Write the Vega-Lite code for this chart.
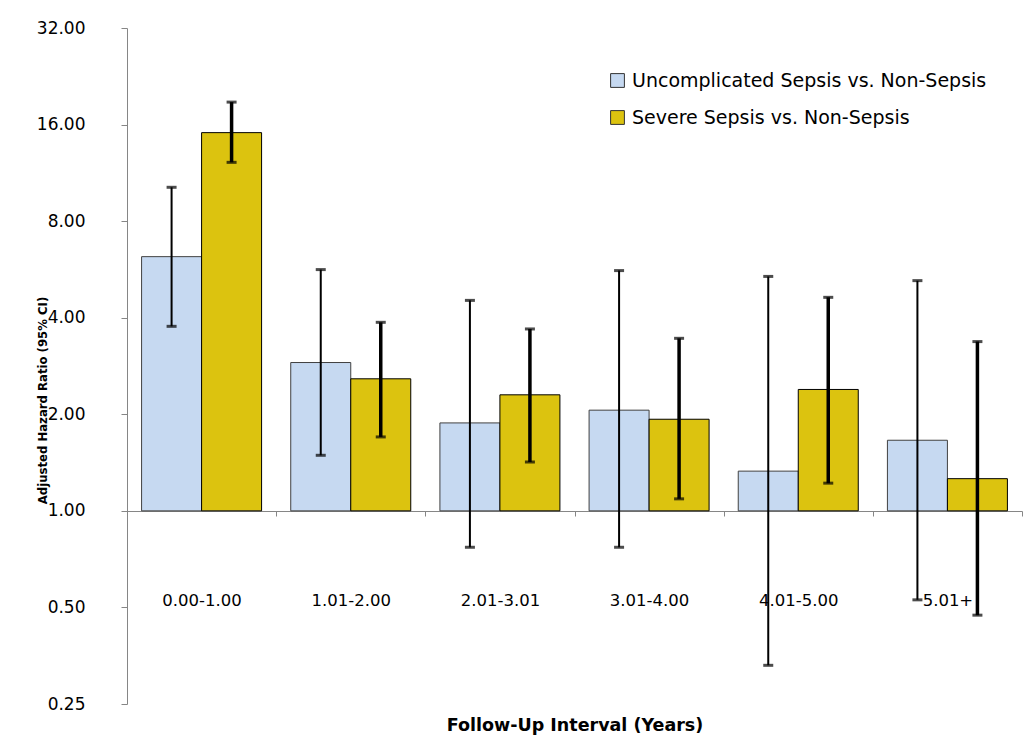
{
  "$schema": "https://vega.github.io/schema/vega-lite/v6.json",
  "width": 895,
  "height": 676,
  "autosize": {"type": "none"},
  "padding": {"left": 127, "top": 28, "right": 8, "bottom": 47},
  "background": "white",
  "config": {"view": {"stroke": null}},
  "data": {"values": [
    {"interval": "0.00-1.00", "series": "Uncomplicated Sepsis vs. Non-Sepsis", "hr": 6.2, "lo": 3.76, "hi": 10.2},
    {"interval": "0.00-1.00", "series": "Severe Sepsis vs. Non-Sepsis", "hr": 15.1, "lo": 12.2, "hi": 18.8},
    {"interval": "1.01-2.00", "series": "Uncomplicated Sepsis vs. Non-Sepsis", "hr": 2.9, "lo": 1.49, "hi": 5.65},
    {"interval": "1.01-2.00", "series": "Severe Sepsis vs. Non-Sepsis", "hr": 2.58, "lo": 1.7, "hi": 3.87},
    {"interval": "2.01-3.01", "series": "Uncomplicated Sepsis vs. Non-Sepsis", "hr": 1.88, "lo": 0.77, "hi": 4.53},
    {"interval": "2.01-3.01", "series": "Severe Sepsis vs. Non-Sepsis", "hr": 2.3, "lo": 1.42, "hi": 3.69},
    {"interval": "3.01-4.00", "series": "Uncomplicated Sepsis vs. Non-Sepsis", "hr": 2.06, "lo": 0.77, "hi": 5.61},
    {"interval": "3.01-4.00", "series": "Severe Sepsis vs. Non-Sepsis", "hr": 1.93, "lo": 1.09, "hi": 3.45},
    {"interval": "4.01-5.00", "series": "Uncomplicated Sepsis vs. Non-Sepsis", "hr": 1.33, "lo": 0.33, "hi": 5.38},
    {"interval": "4.01-5.00", "series": "Severe Sepsis vs. Non-Sepsis", "hr": 2.39, "lo": 1.22, "hi": 4.63},
    {"interval": "5.01+", "series": "Uncomplicated Sepsis vs. Non-Sepsis", "hr": 1.66, "lo": 0.528, "hi": 5.22},
    {"interval": "5.01+", "series": "Severe Sepsis vs. Non-Sepsis", "hr": 1.26, "lo": 0.473, "hi": 3.37}
  ]},
  "encoding": {
    "x": {
      "field": "interval", "type": "nominal", "sort": null,
      "scale": {"paddingInner": 0, "paddingOuter": 0},
      "axis": {
        "orient": "bottom", "offset": -193, "labelAngle": 0,
        "domainColor": "#868686", "tickColor": "#868686", "tickSize": 5, "tickBand": "extent",
        "labelFont": "DejaVu Sans", "labelFontSize": 16.5, "labelColor": "black", "labelPadding": 76,
        "title": "Follow-Up Interval (Years)", "titleFont": "DejaVu Sans", "titleFontSize": 17.5,
        "titleFontWeight": "bold", "titleColor": "black", "titlePadding": 108
      }
    },
    "xOffset": {
      "field": "series", "type": "nominal", "sort": ["Uncomplicated Sepsis vs. Non-Sepsis", "Severe Sepsis vs. Non-Sepsis"],
      "scale": {"paddingInner": 0, "paddingOuter": 0.243}
    }
  },
  "layer": [
    {
      "mark": {"type": "bar", "strokeWidth": 1},
      "encoding": {
        "y": {
          "field": "hr", "type": "quantitative",
          "scale": {"type": "log", "base": 2, "domain": [0.25, 32], "nice": false},
          "axis": {
            "values": [0.25, 0.5, 1, 2, 4, 8, 16, 32], "format": ".2f", "grid": false,
            "domainColor": "#868686", "tickColor": "#868686", "tickSize": 6,
            "labelFont": "DejaVu Sans", "labelFontSize": 17, "labelColor": "black", "labelPadding": 36,
            "title": "Adjusted Hazard Ratio (95% CI)", "titleFont": "'DejaVu Sans Condensed', 'Liberation Sans', sans-serif",
            "titleFontSize": 13, "titleFontWeight": "bold", "titleColor": "black",
            "titleX": -78, "titleY": 372, "titleBaseline": "bottom", "titleAngle": -90
          }
        },
        "y2": {"datum": 1},
        "color": {
          "field": "series", "type": "nominal", "sort": ["Uncomplicated Sepsis vs. Non-Sepsis", "Severe Sepsis vs. Non-Sepsis"],
          "scale": {"range": ["#C6D9F1", "#DCC30F"]},
          "legend": {
            "title": null, "orient": "none", "legendX": 481, "legendY": 43,
            "symbolType": "square", "symbolSize": 190, "symbolStrokeWidth": 1, "symbolStrokeColor": "#333333",
            "labelFont": "DejaVu Sans", "labelFontSize": 19, "labelColor": "black", "labelLimit": 0,
            "rowPadding": 17, "labelOffset": 5
          }
        },
        "stroke": {
          "field": "series", "type": "nominal", "sort": ["Uncomplicated Sepsis vs. Non-Sepsis", "Severe Sepsis vs. Non-Sepsis"],
          "scale": {"range": ["#404040", "#000000"]},
          "legend": null
        }
      }
    },
    {
      "mark": {"type": "rule", "color": "black"},
      "encoding": {
        "y": {"field": "lo", "type": "quantitative"},
        "y2": {"field": "hi"},
        "strokeWidth": {
          "field": "series", "type": "nominal", "sort": ["Uncomplicated Sepsis vs. Non-Sepsis", "Severe Sepsis vs. Non-Sepsis"],
          "scale": {"type": "ordinal", "range": [2, 3.5]}, "legend": null
        }
      }
    },
    {
      "mark": {"type": "tick", "color": "black", "orient": "horizontal", "size": 10, "thickness": 3},
      "encoding": {"y": {"field": "lo", "type": "quantitative"}}
    },
    {
      "mark": {"type": "tick", "color": "black", "orient": "horizontal", "size": 10, "thickness": 3},
      "encoding": {"y": {"field": "hi", "type": "quantitative"}}
    }
  ]
}
